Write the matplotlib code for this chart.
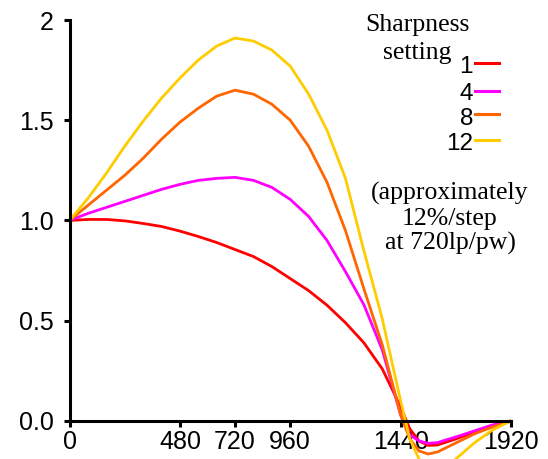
import matplotlib
matplotlib.use('Agg')
import matplotlib.pyplot as plt
from matplotlib.lines import Line2D

# spatial frequency (lp/pw)
freq = [0, 80, 160, 240, 320, 400, 480, 560, 640, 720, 800, 880, 960,
        1040, 1120, 1200, 1280, 1360, 1440, 1480, 1520, 1560, 1600, 1680, 1760, 1840, 1920]

# response for each sharpness setting
sharp_1 = [1.0, 1.005, 1.005, 0.998, 0.985, 0.97, 0.947, 0.92, 0.89, 0.855, 0.82, 0.77, 0.71,
           0.65, 0.577, 0.49, 0.39, 0.26, 0.07, -0.04, -0.1, -0.122, -0.12, -0.09, -0.055, -0.025, 0.0]
sharp_4 = [1.0, 1.035, 1.065, 1.095, 1.125, 1.155, 1.18, 1.2, 1.21, 1.215, 1.2, 1.165, 1.105,
           1.02, 0.9, 0.745, 0.58, 0.355, 0.03, -0.07, -0.1, -0.112, -0.108, -0.08, -0.05, -0.02, 0.0]
sharp_8 = [1.0, 1.075, 1.15, 1.225, 1.31, 1.405, 1.49, 1.56, 1.62, 1.65, 1.63, 1.58, 1.5,
           1.37, 1.19, 0.95, 0.66, 0.38, 0.03, -0.09, -0.15, -0.165, -0.155, -0.11, -0.065, -0.03, 0.0]
sharp_12 = [1.0, 1.11, 1.235, 1.37, 1.495, 1.61, 1.71, 1.8, 1.87, 1.91, 1.895, 1.85, 1.77,
            1.63, 1.45, 1.21, 0.85, 0.51, 0.1, -0.09, -0.19, -0.25, -0.26, -0.19, -0.11, -0.045, 0.0]

settings = ['1', '4', '8', '12']
colors = ['#ff0000', '#ff00ff', '#ff6600', '#ffcc00']

xticks = [0, 480, 720, 960, 1440, 1920]
yticks = [0.0, 0.5, 1.0, 1.5, 2.0]
ytick_labels = ['0.0', '0.5', '1.0', '1.5', '2']

W, H = 548, 459
fig = plt.figure(figsize=(W / 100, H / 100), dpi=100)
ax = fig.add_axes([69.5 / W, 0, (511 - 69.5) / W, (H - 20) / H])

for ys, c in zip([sharp_1, sharp_4, sharp_8, sharp_12], colors):
    ax.plot(freq, ys, color=c, lw=2.0)

ax.set_xlim(0, 1920)
ax.set_ylim(-0.19, 2.0)

for s in ['top', 'right']:
    ax.spines[s].set_visible(False)
ax.spines['bottom'].set_position(('data', 0))
ax.spines['bottom'].set_bounds(0, 1920)
ax.spines['left'].set_bounds(0, 2)
ax.spines['bottom'].set_linewidth(2.2)
ax.spines['left'].set_linewidth(2.2)

ax.set_xticks(xticks)
ax.set_xticklabels([str(t) for t in xticks])
ax.set_yticks(yticks)
ax.set_yticklabels(ytick_labels)
ax.tick_params(axis='y', direction='out', length=4.5, width=2.2, pad=7, labelsize=18)
ax.tick_params(axis='x', direction='out', length=4.5, width=2.2, pad=2, labelsize=18)
for lab in ax.get_xticklabels() + ax.get_yticklabels():
    lab.set_family('Liberation Sans')

# legend drawn by hand: number right-aligned, short line after it
serif = 'Liberation Serif'
fig.text(417 / W, 1 - 31.5 / H, 'Sharpness', ha='center', va='baseline',
         family=serif, fontsize=18.5)
fig.text(417 / W, 1 - 58.5 / H, 'setting', ha='center', va='baseline',
         family=serif, fontsize=18.5)

line_y = [63.3, 90.7, 114.3, 140]
text_y = [73, 100, 125, 150]
for lab, c, ly, ty in zip(settings, colors, line_y, text_y):
    fig.text(473 / W, 1 - ty / H, lab, ha='right', va='baseline',
             family='Liberation Sans', fontsize=17.5)
    fig.add_artist(Line2D([475 / W, 499 / W], [1 - ly / H, 1 - ly / H],
                          color=c, lw=2.2, transform=fig.transFigure))

note = ['(approximately', '12%/step', 'at 720lp/pw)']
for txt, by in zip(note, [200, 225, 250]):
    fig.text(450 / W, 1 - by / H, txt, ha='center', va='baseline',
             family=serif, fontsize=18.5)

fig.savefig('out.png', dpi=100)
